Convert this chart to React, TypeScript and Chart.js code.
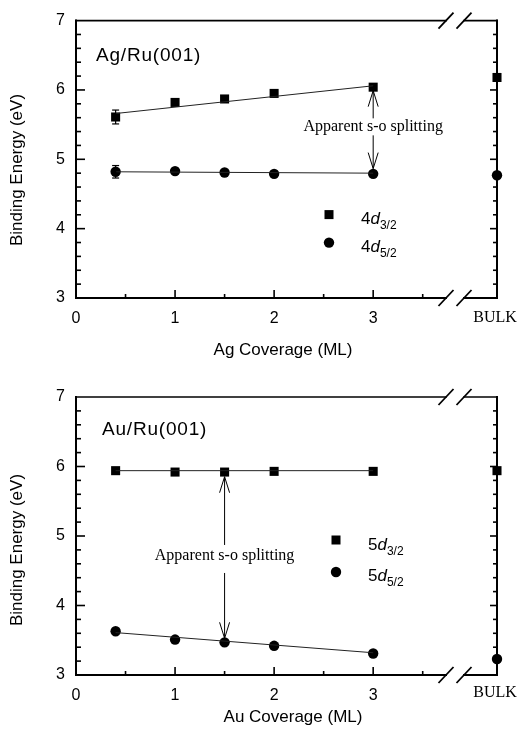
import React, { useEffect, useRef } from "react";
import { Chart, registerables } from "chart.js";

Chart.register(...registerables);

const SANS = '"Liberation Sans", Arial, Helvetica, sans-serif';
const SERIF = '"Liberation Serif", "Times New Roman", serif';

// ---------- data ----------
const xTickValues = [0, 1, 2, 3];
const yTickStep = 1;
const bulkX = 4.25;
const breakXs = [3.735, 3.917];
const fitX = [0.4, 3];

// Ag/Ru(001)
const agCoverage = [0.4, 1, 1.5, 2, 3];
const ag4d32 = [5.61, 5.82, 5.87, 5.95, 6.04];
const ag4d52 = [4.82, 4.83, 4.81, 4.79, 4.79];
const ag4d32Err = [0.1, 0, 0, 0, 0];
const ag4d52Err = [0.09, 0, 0, 0, 0];
const agBulk = [6.18, 4.77];
const agFit32 = [5.66, 6.06];
const agFit52 = [4.82, 4.8];

// Au/Ru(001)
const auCoverage = [0.4, 1, 1.5, 2, 3];
const au5d32 = [5.94, 5.92, 5.92, 5.93, 5.93];
const au5d52 = [3.63, 3.51, 3.47, 3.42, 3.31];
const au5d32Err = [0, 0, 0, 0, 0];
const au5d52Err = [0, 0, 0, 0, 0];
const auBulk = [5.94, 3.23];
const auFit32 = [5.94, 5.94];
const auFit52 = [3.61, 3.32];

type Panel = {
  height: number;
  padTop: number;
  xAxisH: number;
  cov: number[];
  s32: number[];
  s52: number[];
  e32: number[];
  e52: number[];
  bulk: number[];
  fit32: number[];
  fit52: number[];
  title: string;
  xTitle: string;
  shell: string;
  // style / placement (pixels relative to chart area)
  titlePos: [number, number];
  legendPos: [number, number];
  legendGap: number;
  legendBase: [number, number];
  xTitlePos: [number, number];
  yTitleY: number;
  bulkBase: number;
  annot: { x: number; yTop: number; yBot: number; baseY: number; gapA: number; gapB: number };
};

const panels: Panel[] = [
  {
    height: 370,
    padTop: 20,
    xAxisH: 72,
    cov: agCoverage,
    s32: ag4d32,
    s52: ag4d52,
    e32: ag4d32Err,
    e52: ag4d52Err,
    bulk: agBulk,
    fit32: agFit32,
    fit52: agFit52,
    title: "Ag/Ru(001)",
    xTitle: "Ag Coverage (ML)",
    shell: "4",
    titlePos: [20, 40],
    legendPos: [253, 194],
    legendGap: 28,
    legendBase: [9, 9],
    xTitlePos: [283, 57],
    yTitleY: 170,
    bulkBase: 24,
    annot: { x: 3, yTop: 5.99, yBot: 4.866, baseY: 5.403, gapA: 13, gapB: 4 },
  },
  {
    height: 363,
    padTop: 27,
    xAxisH: 58,
    cov: auCoverage,
    s32: au5d32,
    s52: au5d52,
    e32: au5d32Err,
    e52: au5d52Err,
    bulk: auBulk,
    fit32: auFit32,
    fit52: auFit52,
    title: "Au/Ru(001)",
    xTitle: "Au Coverage (ML)",
    shell: "5",
    titlePos: [26, 38],
    legendPos: [260, 143],
    legendGap: 32,
    legendBase: [10, 9],
    xTitlePos: [293, 47],
    yTitleY: 180,
    bulkBase: 22,
    annot: { x: 1.5, yTop: 5.853, yBot: 3.528, baseY: 4.655, gapA: 15, gapB: 13 },
  },
];

function line(ctx: CanvasRenderingContext2D, x1: number, y1: number, x2: number, y2: number) {
  ctx.beginPath();
  ctx.moveTo(x1, y1);
  ctx.lineTo(x2, y2);
  ctx.stroke();
}

function makePlugin(p: Panel) {
  return {
    id: "panelDeco",
    beforeDatasetsDraw(chart: any) {
      const ctx: CanvasRenderingContext2D = chart.ctx;
      const xs = chart.scales.x;
      const ys = chart.scales.y;
      const { left: L, right: R, top: T, bottom: B } = chart.chartArea;
      const b1 = xs.getPixelForValue(breakXs[0]);
      const b2 = xs.getPixelForValue(breakXs[1]);
      ctx.save();
      ctx.strokeStyle = "#000";
      ctx.lineCap = "square";
      ctx.lineWidth = 2;
      line(ctx, L, T, L, B);
      line(ctx, L, B, b1, B);
      line(ctx, b2, B, R, B);
      line(ctx, R, T, R, B);
      ctx.lineWidth = 1.6;
      line(ctx, L, T, b1, T);
      line(ctx, b2, T, R, T);
      ctx.lineCap = "butt";
      // y ticks (left and right)
      ctx.lineWidth = 1.6;
      for (let k = 1; k < 20; k++) {
        const v = 3 + k * 0.2;
        const major = k % 5 === 0;
        const y = ys.getPixelForValue(v);
        line(ctx, L, y, L + (major ? 9 : 5), y);
        line(ctx, R, y, R - (major ? 7 : 4), y);
      }
      // x ticks
      for (let k = 1; k <= 7; k++) {
        const v = k * 0.5;
        const major = k % 2 === 0;
        const x = xs.getPixelForValue(v);
        line(ctx, x, B, x, B - (major ? 8 : 4));
      }
      // breaks
      ctx.lineWidth = 1.8;
      for (const b of [b1, b2]) {
        for (const y of [T, B]) {
          line(ctx, b - 7.5, y + 8, b + 7.5, y - 8);
        }
      }
      ctx.restore();
    },
    afterDatasetsDraw(chart: any) {
      const ctx: CanvasRenderingContext2D = chart.ctx;
      const xs = chart.scales.x;
      const ys = chart.scales.y;
      const { left: L, right: R, top: T, bottom: B } = chart.chartArea;
      ctx.save();
      ctx.strokeStyle = "#000";
      ctx.fillStyle = "#000";
      // error bars
      ctx.lineWidth = 1.2;
      const eb = (vals: number[], errs: number[]) => {
        p.cov.forEach((cx, i) => {
          if (!errs[i]) return;
          const x = xs.getPixelForValue(cx);
          const y1 = ys.getPixelForValue(vals[i] + errs[i]);
          const y2 = ys.getPixelForValue(vals[i] - errs[i]);
          line(ctx, x, y1, x, y2);
          line(ctx, x - 3.5, y1, x + 3.5, y1);
          line(ctx, x - 3.5, y2, x + 3.5, y2);
        });
      };
      eb(p.s32, p.e32);
      eb(p.s52, p.e52);

      // annotation double arrow
      const a = p.annot;
      const ax = xs.getPixelForValue(a.x);
      const yT = ys.getPixelForValue(a.yTop);
      const yB = ys.getPixelForValue(a.yBot);
      const yBase = ys.getPixelForValue(a.baseY);
      ctx.lineWidth = 1;
      line(ctx, ax, yT, ax, yBase - a.gapA);
      line(ctx, ax, yBase + a.gapB, ax, yB);
      line(ctx, ax, yT, ax - 5, yT + 16);
      line(ctx, ax, yT, ax + 5, yT + 16);
      line(ctx, ax, yB, ax - 5, yB - 16);
      line(ctx, ax, yB, ax + 5, yB - 16);
      ctx.font = `16px ${SERIF}`;
      ctx.textAlign = "center";
      ctx.textBaseline = "alphabetic";
      ctx.fillText("Apparent s-o splitting", ax, yBase);

      // panel title
      ctx.textAlign = "left";
      ctx.font = `19px ${SANS}`;
      (ctx as any).letterSpacing = "0.8px";
      ctx.fillText(p.title, L + p.titlePos[0], T + p.titlePos[1]);
      (ctx as any).letterSpacing = "0px";

      // legend
      const lx = L + p.legendPos[0];
      const ly1 = T + p.legendPos[1];
      const ly2 = ly1 + p.legendGap;
      ctx.fillRect(lx - 4.5, ly1 - 4.5, 9, 9);
      ctx.beginPath();
      ctx.arc(lx, ly2, 5.2, 0, Math.PI * 2);
      ctx.fill();
      const drawLabel = (x: number, base: number, sub: string) => {
        ctx.font = `17px ${SANS}`;
        ctx.fillText(p.shell, x, base);
        let w = ctx.measureText(p.shell).width;
        ctx.font = `italic 17px ${SANS}`;
        ctx.fillText("d", x + w, base);
        w += ctx.measureText("d").width;
        ctx.font = `12px ${SANS}`;
        ctx.fillText(sub, x + w, base + 5);
      };
      drawLabel(lx + 32, ly1 + p.legendBase[0], "3/2");
      drawLabel(lx + 32, ly2 + p.legendBase[1], "5/2");

      // BULK label
      ctx.font = `16px ${SERIF}`;
      ctx.textAlign = "center";
      ctx.fillText("BULK", xs.getPixelForValue(bulkX) - 2, B + p.bulkBase);

      // axis titles
      ctx.font = `17px ${SANS}`;
      ctx.fillText(p.xTitle, p.xTitlePos[0], B + p.xTitlePos[1]);
      ctx.save();
      ctx.translate(17.5, p.yTitleY);
      ctx.rotate(-Math.PI / 2);
      ctx.textBaseline = "middle";
      ctx.fillText("Binding Energy (eV)", 0, 0);
      ctx.restore();
      ctx.restore();
    },
  };
}

function PanelChart({ p }: { p: Panel }) {
  const ref = useRef<HTMLCanvasElement | null>(null);
  useEffect(() => {
    if (!ref.current) return;
    const pts = (vals: number[], bulkVal: number) =>
      p.cov.map((x, i) => ({ x, y: vals[i] })).concat([{ x: bulkX, y: bulkVal }]);
    const fit = (vals: number[]) => fitX.map((x, i) => ({ x, y: vals[i] }));
    const chart = new Chart(ref.current, {
      type: "scatter",
      data: {
        datasets: [
          {
            data: fit(p.fit32),
            showLine: true,
            pointRadius: 0,
            borderColor: "#222",
            borderWidth: 1,
          },
          {
            data: fit(p.fit52),
            showLine: true,
            pointRadius: 0,
            borderColor: "#222",
            borderWidth: 1,
          },
          {
            label: `${p.shell}d3/2`,
            data: pts(p.s32, p.bulk[0]),
            pointStyle: "rect",
            pointRadius: 6.4,
            backgroundColor: "#000",
            borderColor: "#000",
            borderWidth: 0,
            clip: false as any,
          },
          {
            label: `${p.shell}d5/2`,
            data: pts(p.s52, p.bulk[1]),
            pointStyle: "circle",
            pointRadius: 5.2,
            backgroundColor: "#000",
            borderColor: "#000",
            borderWidth: 0,
            clip: false as any,
          },
        ],
      },
      options: {
        responsive: false,
        animation: false,
        events: [],
        layout: { padding: { top: p.padTop, right: 21, left: 0, bottom: 0 } },
        plugins: { legend: { display: false }, tooltip: { enabled: false } },
        scales: {
          x: {
            type: "linear",
            min: 0,
            max: bulkX,
            grid: { display: false, drawTicks: false },
            border: { display: false },
            afterBuildTicks: (s: any) => {
              s.ticks = xTickValues.map((v) => ({ value: v }));
            },
            afterFit: (s: any) => {
              s.height = p.xAxisH;
            },
            ticks: {
              color: "#000",
              font: { family: SANS, size: 16 },
              padding: 11,
              maxRotation: 0,
              callback: (v: any) => String(v),
            },
          },
          y: {
            min: 3,
            max: 7,
            grid: { display: false, drawTicks: false },
            border: { display: false },
            afterFit: (s: any) => {
              s.width = 76;
            },
            ticks: {
              stepSize: yTickStep,
              color: "#000",
              font: { family: SANS, size: 16 },
              padding: 11,
              callback: (v: any) => String(v),
            },
          },
        },
      },
      plugins: [makePlugin(p)],
    });
    return () => chart.destroy();
  }, [p]);
  return <canvas ref={ref} width={518} height={p.height} style={{ display: "block" }} />;
}

export default function App() {
  return (
    <div style={{ position: "absolute", left: 0, top: 0, width: 518, height: 733, background: "#fff" }}>
      {panels.map((p, i) => (
        <PanelChart key={i} p={p} />
      ))}
    </div>
  );
}
